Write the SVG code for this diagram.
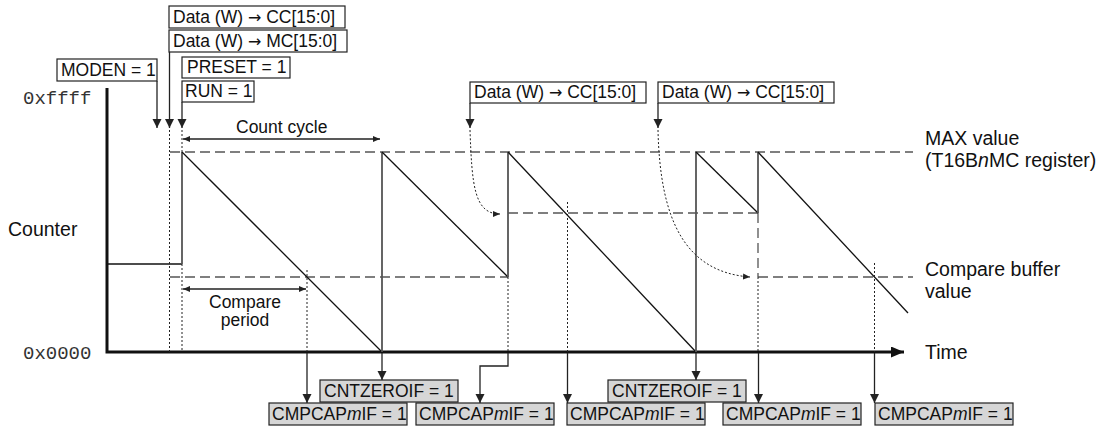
<svg xmlns="http://www.w3.org/2000/svg" width="1102" height="428" viewBox="0 0 1102 428">
<style>
text{font-family:"Liberation Sans",Arial,Helvetica,sans-serif;fill:#111}
.bt{font-size:17.5px}
.lb{font-size:19.5px}
.ar{font-family:"DejaVu Sans",sans-serif;font-size:16px}
.mono{font-family:"Liberation Mono","Courier New",monospace;font-size:19px;fill:#333}
.box{fill:#fff;stroke:#222;stroke-width:1.2}
.gbox{fill:#d6d6d6;stroke:#222;stroke-width:1.2}
.ln{fill:none;stroke:#222;stroke-width:1.3}
.ramp{fill:none;stroke:#111;stroke-width:1.3}
.vl{fill:none;stroke:#555;stroke-width:1.8}
.dash{fill:none;stroke:#555;stroke-width:1.3;stroke-dasharray:10 5}
.dot{fill:none;stroke:#222;stroke-width:1;stroke-dasharray:2 2}
.axis{fill:none;stroke:#111;stroke-width:3}
</style>
<defs>
<marker id="ah" markerUnits="userSpaceOnUse" markerWidth="10" markerHeight="10" refX="9" refY="4.5" orient="auto"><path d="M0,0L9,4.5L0,9z" fill="#222"/></marker>
<marker id="sa" markerUnits="userSpaceOnUse" markerWidth="8" markerHeight="8" refX="7" refY="3" orient="auto-start-reverse"><path d="M0,0L7,3L0,6z" fill="#222"/></marker>
<marker id="ta" markerUnits="userSpaceOnUse" markerWidth="14" markerHeight="12" refX="13" refY="5.5" orient="auto"><path d="M0,0L13,5.5L0,11z" fill="#111"/></marker>
</defs>

<g id="axes">
<path class="axis" d="M107,88V352H904" marker-end="url(#ta)"/>
<text class="mono" x="23" y="104">0xffff</text>
<text class="mono" x="23" y="359">0x0000</text>
<text class="lb" x="8" y="236">Counter</text>
<text class="lb" x="925" y="359">Time</text>
</g>

<g id="levels">
<path class="dash" d="M170,152H913"/>
<path class="dash" d="M170,277H508"/>
<path class="dash" d="M508,213H758"/>
<path class="dash" d="M758,277H913"/>
<path class="dash" d="M758,213V277"/>
<text class="lb" x="925" y="145">MAX value</text>
<text class="lb" x="925" y="167">(T16B<tspan font-style="italic">n</tspan>MC register)</text>
<text class="lb" x="925" y="276">Compare buffer</text>
<text class="lb" x="925" y="298">value</text>
</g>

<g id="counter">
<path class="ramp" d="M107,264H182"/>
<path class="vl" d="M182,264V152"/>
<path class="ramp" d="M182,152L382,352"/>
<path class="vl" d="M382,352V152"/>
<path class="ramp" d="M382,152L508,277"/>
<path class="vl" d="M508,277V152"/>
<path class="ramp" d="M508,152L696,352"/>
<path class="vl" d="M696,352V152"/>
<path class="ramp" d="M696,152L758,213"/>
<path class="vl" d="M758,213V152"/>
<path class="ramp" d="M758,152L908,313"/>
</g>

<g id="n-cc-top"><rect class="box" x="169" y="6" width="176" height="22"/><text class="bt" x="173" y="22.5">Data (W) <tspan class="ar">→</tspan> CC[15:0]</text></g>
<g id="n-mc-top"><rect class="box" x="169" y="30" width="178" height="22"/><text class="bt" x="173" y="46.5">Data (W) <tspan class="ar">→</tspan> MC[15:0]</text></g>
<g id="n-moden"><rect class="box" x="57" y="59" width="100" height="22"/><text class="bt" x="61" y="75.5">MODEN = 1</text></g>
<g id="n-preset"><rect class="box" x="182" y="57" width="108" height="21"/><text class="bt" x="187" y="73">PRESET = 1</text></g>
<g id="n-run"><rect class="box" x="182" y="81" width="72" height="21"/><text class="bt" x="185" y="97">RUN = 1</text></g>
<g id="n-cc-1"><rect class="box" x="470" y="82" width="176" height="21"/><text class="bt" x="474" y="98">Data (W) <tspan class="ar">→</tspan> CC[15:0]</text></g>
<g id="n-cc-2"><rect class="box" x="658" y="82" width="176" height="21"/><text class="bt" x="662" y="98">Data (W) <tspan class="ar">→</tspan> CC[15:0]</text></g>

<g id="n-cmp-1"><rect class="gbox" x="269" y="403" width="138" height="22"/><text class="bt" x="272" y="420">CMPCAP<tspan font-style="italic">m</tspan>IF = 1</text></g>
<g id="n-zero-1"><rect class="gbox" x="320" y="380" width="138" height="22"/><text class="bt" x="324" y="397">CNTZEROIF = 1</text></g>
<g id="n-cmp-2"><rect class="gbox" x="416" y="403" width="138" height="22"/><text class="bt" x="419" y="420">CMPCAP<tspan font-style="italic">m</tspan>IF = 1</text></g>
<g id="n-cmp-3"><rect class="gbox" x="567" y="403" width="138" height="22"/><text class="bt" x="570" y="420">CMPCAP<tspan font-style="italic">m</tspan>IF = 1</text></g>
<g id="n-zero-2"><rect class="gbox" x="608" y="380" width="138" height="22"/><text class="bt" x="612" y="397">CNTZEROIF = 1</text></g>
<g id="n-cmp-4"><rect class="gbox" x="723" y="403" width="138" height="22"/><text class="bt" x="726" y="420">CMPCAP<tspan font-style="italic">m</tspan>IF = 1</text></g>
<g id="n-cmp-5"><rect class="gbox" x="875" y="403" width="138" height="22"/><text class="bt" x="878" y="420">CMPCAP<tspan font-style="italic">m</tspan>IF = 1</text></g>

<g id="connectors">
<path class="ln" d="M157,81V128" marker-end="url(#ah)"/>
<path class="ln" d="M169.5,52V128" marker-end="url(#ah)"/>
<path class="ln" d="M182,102V128" marker-end="url(#ah)"/>
<path class="ln" d="M470,103V128" marker-end="url(#ah)"/>
<path class="ln" d="M658,103V128" marker-end="url(#ah)"/>
<path class="dot" d="M169.5,130V352"/>
<path class="dot" d="M182,130V152"/>
<path class="dot" d="M182,264V352"/>
<path class="dot" d="M307,270V352"/>
<path class="dot" d="M508,277V352"/>
<path class="dot" d="M567.5,202V352"/>
<path class="dot" d="M758,277V352"/>
<path class="dot" d="M874.5,263V352"/>
<path class="dot" d="M470,130C472,185 474,214 500,214" marker-end="url(#sa)"/>
<path class="dot" d="M658,130C660,220 685,272 750,277" marker-end="url(#sa)"/>
<path class="ln" d="M183,139H380" marker-start="url(#sa)" marker-end="url(#sa)"/>
<path class="ln" d="M183,289H306" marker-start="url(#sa)" marker-end="url(#sa)"/>
<path class="ln" d="M307,353V403" marker-end="url(#ah)"/>
<path class="ln" d="M382,353V380" marker-end="url(#ah)"/>
<path class="ln" d="M508,353V366H480V403" marker-end="url(#ah)"/>
<path class="ln" d="M567.5,353V403" marker-end="url(#ah)"/>
<path class="ln" d="M696,353V380" marker-end="url(#ah)"/>
<path class="ln" d="M758.5,353V403" marker-end="url(#ah)"/>
<path class="ln" d="M874.5,353V403" marker-end="url(#ah)"/>
</g>

<g id="annotations">
<text class="bt" x="236" y="133">Count cycle</text>
<text class="bt" x="245" y="308" text-anchor="middle">Compare</text>
<text class="bt" x="245" y="326" text-anchor="middle">period</text>
</g>
</svg>
